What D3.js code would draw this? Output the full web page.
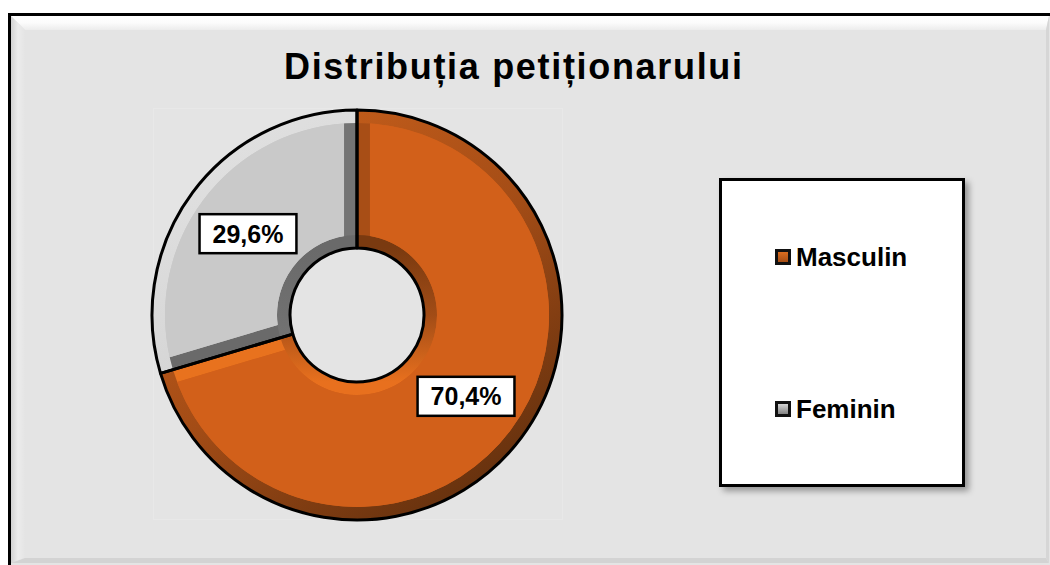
<!DOCTYPE html>
<html>
<head>
<meta charset="utf-8">
<script src="https://cdn.jsdelivr.net/npm/d3@7"></script>
<style>
  body { margin: 0; background: #fff; }
  svg text { font-family: "Liberation Sans", Arial, sans-serif; font-weight: bold; }
</style>
</head>
<body>
<div id="chart"></div>
<script>
// chart data
const categories = ["Masculin", "Feminin"]
const values = [70.4, 29.6]
const value_labels = ["70,4%", "29,6%"]
const title_text = "Distribuția petiționarului"

const width = 1050
const height = 565
const center = { x: 357, y: 315 }
const outer_radius = 205
const inner_radius = 67
const bevel = 13
const pad_radius = 100

// per slice styles: face, outer bevel stops, inner bevel stops, start edge, end edge
const styles = [
  { face: "#d2601a", outer: ["#cd621c", "#a34c16", "#5c2d0d"], inner: ["#7a3a10", "#a24c16", "#e8701e"],
    start_edge: "#a84e16", end_edge: "#e8721e", marker: ["#e07020", "#a04a14"] },
  { face: "#c9c9c9", outer: ["#e2e2e2", "#d2d2d2", "#b8b8b8"], inner: ["#6a6a6a", "#707070", "#777777"],
    start_edge: "#6a6a6a", end_edge: "#747474", marker: ["#dddddd", "#7a7a7a"] }
]

const svg = d3.select("#chart").append("svg")
  .attr("width", width)
  .attr("height", height)

const defs = svg.append("defs")

// shadow for legend
const shadow = defs.append("filter").attr("id", "shadow")
  .attr("x", "-10%").attr("y", "-10%").attr("width", "130%").attr("height", "130%")
shadow.append("feDropShadow")
  .attr("dx", 4).attr("dy", 4).attr("stdDeviation", 3)
  .attr("flood-color", "#000").attr("flood-opacity", 0.35)

function linear_gradient(id, stops, x1, y1, x2, y2) {
  const g = defs.append("linearGradient").attr("id", id)
    .attr("gradientUnits", "userSpaceOnUse")
    .attr("x1", x1).attr("y1", y1).attr("x2", x2).attr("y2", y2)
  stops.forEach((c, i) => {
    g.append("stop").attr("offset", i / (stops.length - 1)).attr("stop-color", c)
  })
  return "url(#" + id + ")"
}

// ---- outer frame ----
svg.append("rect")
  .attr("x", 9.5).attr("y", 14.5)
  .attr("width", 1060).attr("height", 560)
  .attr("fill", "#e4e4e4")
  .attr("stroke", "#000").attr("stroke-width", 3)

const frame_left = 11, frame_top = 16, frame_right = 1049, frame_bottom = 563
const top_fill = linear_gradient("frame_top", ["#ffffff", "#fbfbfb", "#ececec"], 0, frame_top, 0, frame_top + 14)
const left_fill = linear_gradient("frame_left", ["#d2d2d2", "#ececec", "#e4e4e4"], frame_left, 0, frame_left + 14, 0)
svg.append("polygon")
  .attr("points", [[frame_left, frame_top], [frame_right, frame_top], [frame_right - 3, frame_top + 14], [frame_left + 14, frame_top + 14]])
  .attr("fill", top_fill)
svg.append("polygon")
  .attr("points", [[frame_left, frame_top], [frame_left + 14, frame_top + 14], [frame_left + 14, frame_bottom - 4], [frame_left, frame_bottom]])
  .attr("fill", left_fill)
svg.append("polygon")
  .attr("points", [[frame_left, frame_bottom], [frame_left + 14, frame_bottom - 5], [frame_right - 3, frame_bottom - 5], [frame_right, frame_bottom]])
  .attr("fill", "#d3d3d3")
svg.append("polygon")
  .attr("points", [[frame_right - 3, frame_top + 14], [frame_right, frame_top], [frame_right, frame_bottom], [frame_right - 3, frame_bottom - 5]])
  .attr("fill", "#d6d6d6")

// faint plot area
svg.append("rect")
  .attr("x", 153.5).attr("y", 108.5)
  .attr("width", 409).attr("height", 411)
  .attr("fill", "none").attr("stroke", "#e8e8e8")

// ---- title ----
svg.append("text")
  .attr("x", 513).attr("y", 79)
  .attr("text-anchor", "middle")
  .attr("textLength", 458)
  .attr("lengthAdjust", "spacing")
  .style("font-size", "36px")
  .attr("fill", "#000")
  .text(title_text)

// ---- donut ----
const pie = d3.pie().sort(null).value(d => d)
const arcs = pie(values)

const full_arc = d3.arc().innerRadius(inner_radius).outerRadius(outer_radius)
const outer_ring = d3.arc().innerRadius(outer_radius - bevel).outerRadius(outer_radius + 2)
const inner_ring = d3.arc().innerRadius(inner_radius - 2).outerRadius(inner_radius + bevel)
const face_arc = d3.arc()
  .innerRadius(inner_radius + bevel)
  .outerRadius(outer_radius - bevel)
  .padRadius(pad_radius)
  .padAngle(2 * bevel / pad_radius)

const donut = svg.append("g").attr("transform", `translate(${center.x},${center.y})`)
const gx1 = -outer_radius, gy1 = -outer_radius, gx2 = outer_radius, gy2 = outer_radius

function edge_polygon(angle, dir) {
  // band along a radial edge, dir = +1 for start edge, -1 for end edge
  const ux = Math.sin(angle), uy = -Math.cos(angle)
  const tx = Math.cos(angle) * dir, ty = Math.sin(angle) * dir
  const r0 = inner_radius - 5, r1 = outer_radius + 5
  return [
    [ux * r0 - tx * 2, uy * r0 - ty * 2],
    [ux * r1 - tx * 2, uy * r1 - ty * 2],
    [ux * r1 + tx * bevel, uy * r1 + ty * bevel],
    [ux * r0 + tx * bevel, uy * r0 + ty * bevel]
  ]
}

arcs.forEach((a, i) => {
  const st = styles[i]
  const clip_id = "slice_clip_" + i
  defs.append("clipPath").attr("id", clip_id)
    .append("path").attr("d", full_arc(a))

  const g = donut.append("g").attr("clip-path", "url(#" + clip_id + ")")
  g.append("path").attr("d", full_arc(a)).attr("fill", st.face)

  g.append("polygon").attr("points", edge_polygon(a.startAngle, 1)).attr("fill", st.start_edge)
  g.append("polygon").attr("points", edge_polygon(a.endAngle, -1)).attr("fill", st.end_edge)

  g.append("path").attr("d", outer_ring(a))
    .attr("fill", linear_gradient("outer_" + i, st.outer, gx1 * 0.7, gy1, gx2 * 0.7, gy2))
  g.append("path").attr("d", inner_ring(a))
    .attr("fill", linear_gradient("inner_" + i, st.inner, 0, -inner_radius, 0, inner_radius))

  g.append("path").attr("d", face_arc(a)).attr("fill", st.face)
})

// outlines
donut.selectAll("path.outline")
  .data(arcs)
  .join("path")
  .attr("class", "outline")
  .attr("d", full_arc)
  .attr("fill", "none")
  .attr("stroke", "#000")
  .attr("stroke-width", 3)
  .attr("stroke-linejoin", "round")

// value labels
const label_arc = d3.arc().innerRadius(inner_radius).outerRadius(outer_radius)
arcs.forEach((a, i) => {
  const [cx, cy] = label_arc.centroid(a)
  const lg = donut.append("g").attr("transform", `translate(${cx},${cy})`)
  const box = lg.append("rect").attr("fill", "#fff").attr("stroke", "#000").attr("stroke-width", 2.5)
  const t = lg.append("text")
    .attr("text-anchor", "middle")
    .attr("y", 9)
    .style("font-size", "25px")
    .attr("fill", "#000")
    .text(value_labels[i])
  const w = t.node().getComputedTextLength() + 26
  box.attr("x", -w / 2).attr("y", -19.5).attr("width", w).attr("height", 39)
})

// ---- legend ----
const legend = svg.append("g")
legend.append("rect")
  .attr("x", 720.5).attr("y", 179.5)
  .attr("width", 243).attr("height", 306)
  .attr("fill", "#fff")
  .attr("stroke", "#000").attr("stroke-width", 3)
  .attr("filter", "url(#shadow)")

const legend_y = d3.scalePoint().domain(categories).range([257, 409])
categories.forEach((c, i) => {
  const y = legend_y(c)
  const mfill = linear_gradient("marker_" + i, styles[i].marker, 0, y - 6, 0, y + 6)
  legend.append("rect")
    .attr("x", 775).attr("y", y - 8)
    .attr("width", 16).attr("height", 16)
    .attr("fill", "#111")
  legend.append("rect")
    .attr("x", 778).attr("y", y - 5)
    .attr("width", 10).attr("height", 10)
    .attr("fill", mfill)
  legend.append("text")
    .attr("x", 796).attr("y", y + 9)
    .style("font-size", "26px")
    .attr("fill", "#000")
    .text(c)
})
</script>
</body>
</html>
